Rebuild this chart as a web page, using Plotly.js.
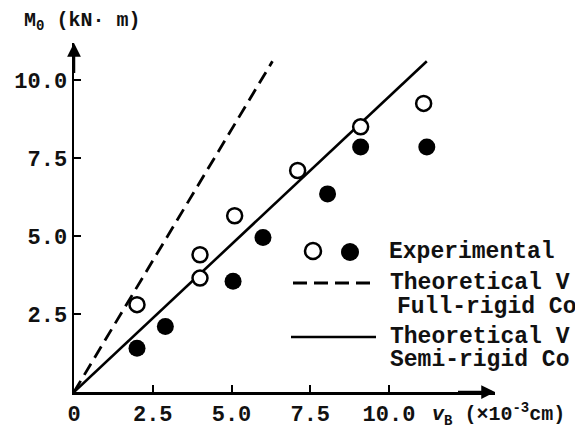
<!DOCTYPE html>
<html>
<head>
<meta charset="utf-8">
<script src="https://cdn.plot.ly/plotly-3.0.1.min.js"></script>
<style>html,body{margin:0;padding:0;background:#fff;}#chart{width:575px;height:432px;}</style>
</head>
<body>
<div id="chart"></div>
<script>
// Experimental data (open circles)
const openX = [2.0, 4.0, 4.0, 5.1, 7.1, 9.1, 11.1];
const openY = [2.8, 4.4, 3.65, 5.65, 7.1, 8.5, 9.25];
// Experimental data (filled circles)
const filledX = [2.0, 2.9, 5.05, 6.0, 8.05, 9.1, 11.2];
const filledY = [1.4, 2.1, 3.55, 4.95, 6.35, 7.85, 7.85];
// Theoretical values
const fullRigidX = [0, 6.3];
const fullRigidY = [0, 10.6];
const semiRigidX = [0, 11.2];
const semiRigidY = [0, 10.6];
// Ticks
const xTickVals = [0, 2.5, 5.0, 7.5, 10.0];
const xTickText = ["0", "2.5", "5.0", "7.5", "10.0"];
const yTickVals = [2.5, 5.0, 7.5, 10.0];
const yTickText = ["2.5", "5.0", "7.5", "10.0"];
// Legend labels
const legendLines = ["Experimental", "Theoretical V", "Full-rigid Co", "Theoretical V", "Semi-rigid Co"];

const FONT = "Liberation Mono, Courier New, monospace";
const W = 575, H = 432;
const L = 74, R = 495, T = 43, B = 392;
const px = x => (x - L) / (R - L);
const py = y => (B - y) / (B - T);

const traces = [
  {x: fullRigidX, y: fullRigidY, mode: "lines", line: {color: "#000", width: 2.8, dash: "13px,7px"}, hoverinfo: "skip"},
  {x: semiRigidX, y: semiRigidY, mode: "lines", line: {color: "#000", width: 2.6}, hoverinfo: "skip"},
  {x: filledX, y: filledY, mode: "markers", marker: {symbol: "circle", size: 17, color: "#000", line: {width: 0}}},
  {x: openX, y: openY, mode: "markers", marker: {symbol: "circle", size: 15, color: "#fff", line: {color: "#000", width: 2.5}}}
];

const tfont = {family: FONT, size: 22, color: "#111", weight: "bold"};
const annotations = [
  // axis arrows
  {xref: "paper", yref: "paper", x: 1, y: 0, ax: -40, ay: 0, showarrow: true, arrowhead: 2, arrowsize: 1.1, arrowwidth: 2.5, arrowcolor: "#000", text: " ", standoff: 0},
  {xref: "paper", yref: "paper", x: 0, y: 1, ax: 0, ay: 40, showarrow: true, arrowhead: 2, arrowsize: 1.1, arrowwidth: 2.5, arrowcolor: "#000", text: " ", standoff: 0},
  // axis titles
  {xref: "paper", yref: "paper", x: px(22), y: py(22), xanchor: "left", yanchor: "middle", showarrow: false,
   text: "M<sub>0</sub> (kN· m)", font: {family: FONT, size: 20, color: "#111", weight: "bold"}},
  {xref: "paper", yref: "paper", x: px(430), y: py(414), xanchor: "left", yanchor: "middle", showarrow: false,
   text: "<i>v</i><sub>B</sub> (×10<sup>-3</sup>cm)", font: {family: FONT, size: 20, color: "#111", weight: "bold"}}
];
const legendY = [252, 283, 307, 337, 360];
const legendX = [387, 388, 395, 388, 388];
legendLines.forEach((t, i) => {
  annotations.push({xref: "paper", yref: "paper", x: px(legendX[i]), y: py(legendY[i]), xanchor: "left", yanchor: "middle",
    showarrow: false, text: t, font: {family: FONT, size: 23, color: "#111", weight: "bold"}});
});

const shapes = [
  // legend symbols
  {type: "circle", xref: "paper", yref: "paper", x0: px(305), x1: px(321), y0: py(259), y1: py(243), line: {color: "#000", width: 2.5}, fillcolor: "#fff"},
  {type: "circle", xref: "paper", yref: "paper", x0: px(341), x1: px(359), y0: py(261), y1: py(243), line: {color: "#000", width: 0}, fillcolor: "#000"},
  {type: "line", xref: "paper", yref: "paper", x0: px(293), x1: px(376), y0: py(283), y1: py(283), line: {color: "#000", width: 2.8, dash: "14px,7px"}},
  {type: "line", xref: "paper", yref: "paper", x0: px(291), x1: px(376), y0: py(337), y1: py(337), line: {color: "#000", width: 2.6}}
];

const layout = {
  width: W, height: H,
  margin: {l: L, r: W - R, t: T, b: H - B, pad: 0},
  paper_bgcolor: "#fff", plot_bgcolor: "#fff",
  showlegend: false,
  xaxis: {range: [0, (R - L) / 31.5], showgrid: false, zeroline: false, showline: true, linecolor: "#000", linewidth: 2.5,
    ticks: "inside", ticklen: 7, tickwidth: 2, tickcolor: "#000", tickvals: xTickVals, ticktext: xTickText,
    tickfont: tfont, fixedrange: true},
  yaxis: {range: [0, (B - T) / 31.2], showgrid: false, zeroline: false, showline: true, linecolor: "#000", linewidth: 2.5,
    ticks: "inside", ticklen: 7, tickwidth: 2, tickcolor: "#000", tickvals: yTickVals, ticktext: yTickText,
    tickfont: tfont, fixedrange: true},
  annotations: annotations,
  shapes: shapes
};

Plotly.newPlot("chart", traces, layout, {displayModeBar: false, staticPlot: true});
</script>
</body>
</html>
